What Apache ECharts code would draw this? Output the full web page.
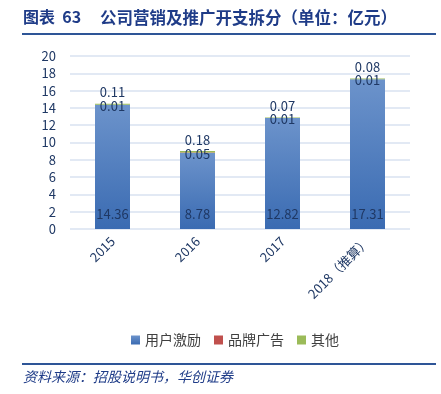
<!DOCTYPE html>
<html><head><meta charset="utf-8">
<script src="https://cdn.jsdelivr.net/npm/echarts@6/dist/echarts.min.js"></script>
<style>html,body{margin:0;padding:0;background:#fff}#c{width:441px;height:394px}</style>
</head><body><div id="c"></div>
<script>
const categories = ['2015', '2016', '2017', '2018（推算）'];
const userIncentive = [14.36, 8.78, 12.82, 17.31];
const brandAds = [0.01, 0.05, 0.01, 0.01];
const others = [0.11, 0.18, 0.07, 0.08];
const yTicks = [0, 2, 4, 6, 8, 10, 12, 14, 16, 18, 20];

const navy = '#1F3864';
const font = '"Noto Sans CJK SC","Noto Sans",sans-serif';
const chart = echarts.init(document.getElementById('c'));
chart.setOption({
  animation: false,
  textStyle: { fontFamily: font },
  grid: { left: 70, right: 31, top: 56, bottom: 165 },
  legend: {
    top: 328, left: 126, itemWidth: 9, itemHeight: 9, itemGap: 13,
    icon: 'rect',
    textStyle: { color: '#404040', fontSize: 14, fontFamily: font },
    data: ['用户激励', '品牌广告', '其他']
  },
  xAxis: {
    type: 'category', data: categories,
    axisLine: { show: false }, axisTick: { show: false },
    axisLabel: { rotate: 45, color: navy, fontSize: 13, margin: 10, interval: 0 }
  },
  yAxis: {
    type: 'value', min: yTicks[0], max: yTicks[yTicks.length - 1], interval: 2,
    axisLine: { show: false }, axisTick: { show: false },
    axisLabel: { color: navy, fontSize: 13, margin: 14 },
    splitLine: { lineStyle: { color: '#D9E2F1', width: 1.5 } }
  },
  series: [
    {
      name: '用户激励', type: 'bar', stack: 's', data: userIncentive, barWidth: 35,
      itemStyle: { color: new echarts.graphic.LinearGradient(0, 0, 0, 1, [
        { offset: 0, color: '#6C93CB' }, { offset: 1, color: '#3A6BB2' }]) },
      label: { show: true, position: 'insideBottom', distance: 8, color: navy, fontSize: 13 }
    },
    {
      name: '品牌广告', type: 'bar', stack: 's', data: brandAds,
      itemStyle: { color: '#C0504D' },
      label: { show: true, position: 'inside', color: navy, fontSize: 13, offset: [0, 1] }
    },
    {
      name: '其他', type: 'bar', stack: 's', data: others,
      itemStyle: { color: '#9BBB59' },
      label: { show: true, position: 'top', distance: 5, color: navy, fontSize: 13 }
    }
  ],
  graphic: [
    { type: 'text', left: 23, top: 9, style: { text: '图表  63', fill: '#1F3C88', font: 'bold 16px ' + font } },
    { type: 'text', left: 100, top: 9, style: { text: '公司营销及推广开支拆分（单位：亿元）', fill: '#1F3C88', font: 'bold 16.5px ' + font } },
    { type: 'rect', shape: { x: 22, y: 33, width: 414, height: 2 }, style: { fill: '#2E5597' } },
    { type: 'rect', shape: { x: 22, y: 363, width: 414, height: 2 }, style: { fill: '#2E5597' } },
    { type: 'text', left: 23, top: 370, style: { text: '资料来源：招股说明书，华创证券', fill: '#1F3C88', font: 'italic 14px ' + font } }
  ]
});
</script></body></html>
